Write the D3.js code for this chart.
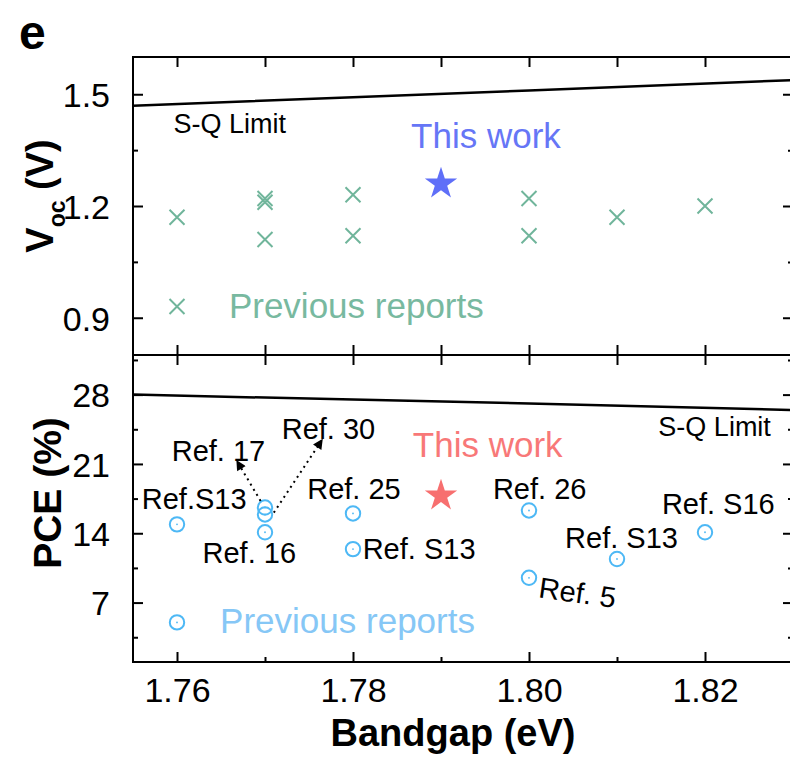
<!DOCTYPE html>
<html>
<head>
<meta charset="utf-8">
<script src="https://cdn.jsdelivr.net/npm/d3@7"></script>
<style>
  html, body { margin: 0; padding: 0; background: #fff; }
  svg { display: block; font-family: "Liberation Sans", Arial, sans-serif; }
</style>
</head>
<body>
<svg id="chart" width="790" height="759"></svg>
<script>
// ---------- data ----------
const xTicks = [1.76, 1.78, 1.80, 1.82];
const xTickLabels = ["1.76", "1.78", "1.80", "1.82"];
const xMinorTicks = [1.77, 1.79, 1.81];
const xAllTicks = [1.76, 1.77, 1.78, 1.79, 1.80, 1.81, 1.82];

const vocTicks = [0.9, 1.2, 1.5];
const vocTickLabels = ["0.9", "1.2", "1.5"];
const vocMinorTicks = [1.05, 1.35];

const pceTicks = [7, 14, 21, 28];
const pceTickLabels = ["7", "14", "21", "28"];
const pceMinorTicks = [3.5, 10.5, 17.5, 24.5, 31.5];

// Shockley-Queisser limit
const sqBandgap = [1.755, 1.78, 1.80, 1.83];
const sqVoc = [1.469, 1.492, 1.510, 1.538];
const sqPce = [28.0, 27.5, 27.1, 26.45];

// Previous reports
const prevBandgap = [1.76, 1.77, 1.77, 1.77, 1.78, 1.78, 1.80, 1.80, 1.81, 1.82];
const prevVoc = [1.17, 1.22, 1.21, 1.11, 1.23, 1.12, 1.22, 1.12, 1.17, 1.20];
const prevPce = [14.9, 16.6, 15.9, 14.1, 16.0, 12.4, 16.3, 9.5, 11.4, 14.1];

// This work
const thisBandgap = [1.79];
const thisVoc = [1.26];
const thisPce = [17.8];

// Legend symbol positions (data units)
const legendBandgap = 1.76;
const legendVoc = 0.93;
const legendPce = 5.0;

// Annotation text (anchored in data units: bandgap, value at baseline)
const pceLabels = [
  { text: "Ref.S13", bg: 1.7560, v: 16.48 },
  { text: "Ref. 17", bg: 1.7594, v: 21.31 },
  { text: "Ref. 30", bg: 1.7719, v: 23.52 },
  { text: "Ref. 16", bg: 1.7629, v: 10.95 },
  { text: "Ref. 25", bg: 1.7748, v: 17.49 },
  { text: "Ref. S13", bg: 1.7811, v: 11.36 },
  { text: "Ref. 26", bg: 1.7959, v: 17.49 },
  { text: "Ref. 5", bg: 1.8010, v: 7.54, rot: 8 },
  { text: "Ref. S13", bg: 1.8041, v: 12.56 },
  { text: "Ref. S16", bg: 1.8151, v: 15.98 }
];
const pceArrows = [
  { from: [1.7695, 17.26], to: [1.7668, 21.31] },
  { from: [1.7710, 16.08], to: [1.7765, 23.45] }
];

// ---------- layout ----------
const svg = d3.select("#chart");
const L = 133, R = 793, T1 = 57, B1 = 355, T2 = 355, B2 = 662;
const colGreen = "#70b59b", colGreenText = "#78b9a0";
const colBlue = "#5f6ff8", colBlueText = "#6676f6";
const colRed = "#f76f6f", colRedText = "#f87878";
const colCircle = "#4db8f5", colCircleText = "#86c7f6";

const x = d3.scaleLinear().domain([1.755, 1.83]).range([L, R]);
const yV = d3.scaleLinear().domain([0.8, 1.6]).range([B1, T1]);
const yP = d3.scaleLinear().domain([1, 32]).range([B2, T2]);

function frame(top, bottom) {
  svg.append("rect").attr("x", L).attr("y", top).attr("width", R - L).attr("height", bottom - top)
    .attr("fill", "none").attr("stroke", "#000").attr("stroke-width", 2);
}

function styleAxis(g) {
  g.select(".domain").remove();
  g.selectAll(".tick line").attr("stroke", "#000").attr("stroke-width", 2);
  g.selectAll("text").attr("font-size", 34).attr("fill", "#000")
    .attr("font-family", "Liberation Sans, Arial, sans-serif");
}

function yAxes(scale, major, labels, minor) {
  const gl = svg.append("g").attr("transform", `translate(${L},0)`)
    .call(d3.axisLeft(scale).tickValues(major).tickFormat((d, i) => labels[i]).tickSize(-10).tickPadding(23));
  styleAxis(gl);
  gl.selectAll("text").attr("dy", "0.36em");
  const gm = svg.append("g").attr("transform", `translate(${L},0)`)
    .call(d3.axisLeft(scale).tickValues(minor).tickFormat("").tickSize(-5));
  styleAxis(gm);
  const gr = svg.append("g").attr("transform", `translate(${R},0)`)
    .call(d3.axisRight(scale).tickValues(major).tickFormat("").tickSize(-10));
  styleAxis(gr);
  const grm = svg.append("g").attr("transform", `translate(${R},0)`)
    .call(d3.axisRight(scale).tickValues(minor).tickFormat("").tickSize(-5));
  styleAxis(grm);
}

function xInnerTicks(yPos, dir) {
  const ax = dir === "top" ? d3.axisTop(x) : d3.axisBottom(x);
  const g = svg.append("g").attr("transform", `translate(0,${yPos})`)
    .call(ax.tickValues(xAllTicks).tickFormat("").tickSize(-10));
  styleAxis(g);
}

// ---------- frames & axes ----------
frame(T1, B1);
frame(T2, B2);
yAxes(yV, vocTicks, vocTickLabels, vocMinorTicks);
yAxes(yP, pceTicks, pceTickLabels, pceMinorTicks);
xInnerTicks(T1, "top");
xInnerTicks(B1, "bottom");
xInnerTicks(T2, "top");

const gxb = svg.append("g").attr("transform", `translate(0,${B2})`)
  .call(d3.axisBottom(x).tickValues(xTicks).tickFormat((d, i) => xTickLabels[i]).tickSize(-10).tickPadding(16));
styleAxis(gxb);
gxb.selectAll("text").attr("dy", "0.71em");
const gxm = svg.append("g").attr("transform", `translate(0,${B2})`)
  .call(d3.axisBottom(x).tickValues(xMinorTicks).tickFormat("").tickSize(-5));
styleAxis(gxm);

// ---------- axis titles ----------
svg.append("text").attr("x", 453).attr("y", 746).attr("text-anchor", "middle")
  .attr("font-size", 38).attr("font-weight", "bold").text("Bandgap (eV)");

const vt = svg.append("text").attr("transform", `translate(53,196) rotate(-90)`)
  .attr("text-anchor", "middle").attr("font-size", 38).attr("font-weight", "bold");
vt.append("tspan").text("V");
vt.append("tspan").attr("font-size", 23).attr("dy", 12).text("oc");
vt.append("tspan").attr("dy", -12).text(" (V)");

svg.append("text").attr("transform", `translate(61,493) rotate(-90)`)
  .attr("text-anchor", "middle").attr("font-size", 39).attr("font-weight", "bold").text("PCE (%)");

svg.append("text").attr("x", 19).attr("y", 49).attr("font-size", 48).attr("font-weight", "bold").text("e");

// ---------- clip ----------
svg.append("clipPath").attr("id", "clipTop").append("rect")
  .attr("x", L).attr("y", T1).attr("width", R - L).attr("height", B1 - T1);
svg.append("clipPath").attr("id", "clipBot").append("rect")
  .attr("x", L).attr("y", T2).attr("width", R - L).attr("height", B2 - T2);

// ---------- S-Q lines ----------
svg.append("path").attr("clip-path", "url(#clipTop)")
  .datum(sqBandgap.map((b, i) => [b, sqVoc[i]]))
  .attr("d", d3.line().x(d => x(d[0])).y(d => yV(d[1])))
  .attr("fill", "none").attr("stroke", "#000").attr("stroke-width", 2.5);
svg.append("path").attr("clip-path", "url(#clipBot)")
  .datum(sqBandgap.map((b, i) => [b, sqPce[i]]))
  .attr("d", d3.line().x(d => x(d[0])).y(d => yP(d[1])))
  .attr("fill", "none").attr("stroke", "#000").attr("stroke-width", 2.5);

// ---------- symbols ----------
const crossPath = "M-7.5,-7.5L7.5,7.5M-7.5,7.5L7.5,-7.5";
function starPath(ro) {
  const ri = ro * 0.382;
  const pts = [];
  for (let i = 0; i < 10; i++) {
    const r = i % 2 === 0 ? ro : ri;
    const a = -Math.PI / 2 + i * Math.PI / 5;
    pts.push([r * Math.cos(a), r * Math.sin(a)]);
  }
  return "M" + pts.map(p => p[0].toFixed(2) + "," + p[1].toFixed(2)).join("L") + "Z";
}
function drawCross(g, cx, cy) {
  g.append("path").attr("transform", `translate(${cx},${cy})`).attr("d", crossPath)
    .attr("stroke", colGreen).attr("stroke-width", 2).attr("fill", "none");
}
function drawCircle(g, cx, cy) {
  g.append("circle").attr("cx", cx).attr("cy", cy).attr("r", 7.2)
    .attr("fill", "none").attr("stroke", colCircle).attr("stroke-width", 2);
  g.append("circle").attr("cx", cx).attr("cy", cy).attr("r", 0.9).attr("fill", colCircle);
}

// Voc panel
const gV = svg.append("g");
prevBandgap.forEach((b, i) => drawCross(gV, x(b), yV(prevVoc[i])));
drawCross(gV, x(legendBandgap), yV(legendVoc));
thisBandgap.forEach((b, i) => gV.append("path").attr("transform", `translate(${x(b)},${yV(thisVoc[i])})`)
  .attr("d", starPath(17)).attr("fill", colBlue));

svg.append("text").attr("x", x(1.7596)).attr("y", yV(1.396)).attr("font-size", 27).text("S-Q Limit");
svg.append("text").attr("x", x(1.7866)).attr("y", yV(1.356)).attr("font-size", 35).attr("fill", colBlueText).text("This work");
svg.append("text").attr("x", x(1.7659)).attr("y", yV(0.899)).attr("font-size", 35).attr("fill", colGreenText).text("Previous reports");

// PCE panel
const gP = svg.append("g");
prevBandgap.forEach((b, i) => drawCircle(gP, x(b), yP(prevPce[i])));
drawCircle(gP, x(legendBandgap), yP(legendPce));
thisBandgap.forEach((b, i) => gP.append("path").attr("transform", `translate(${x(b)},${yP(thisPce[i])})`)
  .attr("d", starPath(17)).attr("fill", colRed));

svg.append("text").attr("x", x(1.8147)).attr("y", yP(23.82)).attr("font-size", 27).text("S-Q Limit");
svg.append("text").attr("x", x(1.7868)).attr("y", yP(21.71)).attr("font-size", 35).attr("fill", colRedText).text("This work");
svg.append("text").attr("x", x(1.7649)).attr("y", yP(3.92)).attr("font-size", 35).attr("fill", colCircleText).text("Previous reports");

pceLabels.forEach(l => {
  const t = svg.append("text").attr("font-size", 29).text(l.text);
  if (l.rot) {
    t.attr("transform", `translate(${x(l.bg)},${yP(l.v)}) rotate(${l.rot})`);
  } else {
    t.attr("x", x(l.bg)).attr("y", yP(l.v));
  }
});

// arrows
svg.append("defs").append("marker").attr("id", "ah").attr("viewBox", "0 0 10 10")
  .attr("refX", 9).attr("refY", 5).attr("markerWidth", 13).attr("markerHeight", 10)
  .attr("markerUnits", "userSpaceOnUse").attr("orient", "auto")
  .append("path").attr("d", "M0,0L10,5L0,10Z").attr("fill", "#000");
pceArrows.forEach(a => {
  svg.append("line")
    .attr("x1", x(a.from[0])).attr("y1", yP(a.from[1]))
    .attr("x2", x(a.to[0])).attr("y2", yP(a.to[1]))
    .attr("stroke", "#000").attr("stroke-width", 2).attr("stroke-dasharray", "2,4")
    .attr("marker-end", "url(#ah)");
});
</script>
</body>
</html>
